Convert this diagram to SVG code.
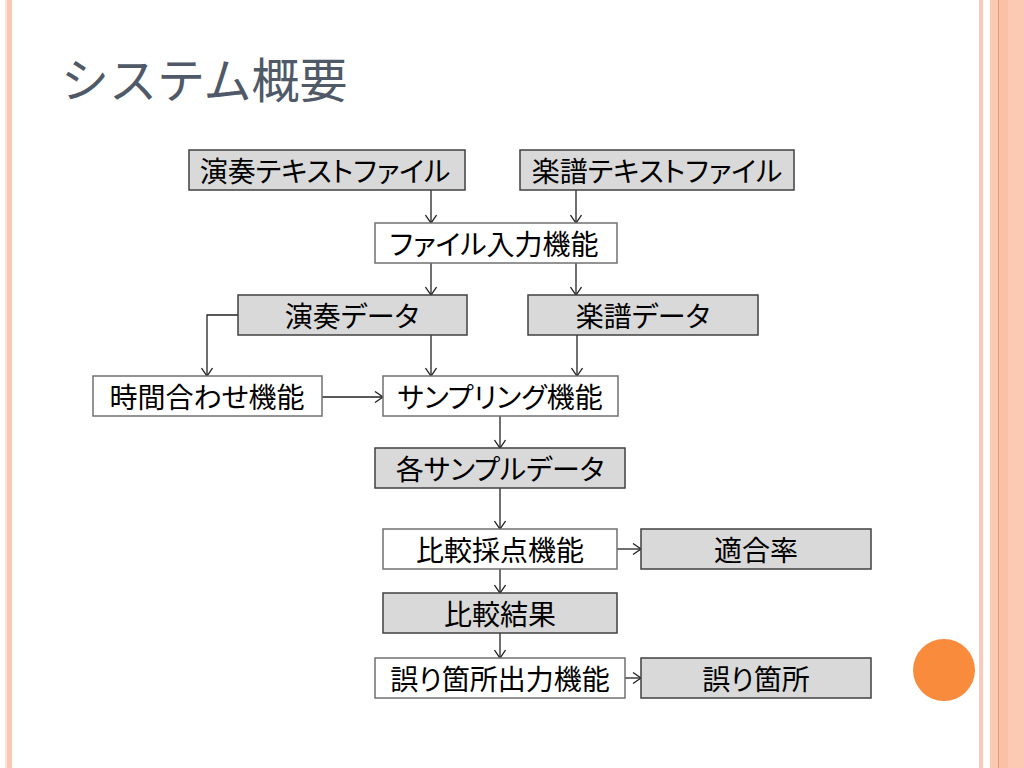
<svg xmlns="http://www.w3.org/2000/svg" width="1024" height="768" viewBox="0 0 1024 768">
  <defs>
    <marker id="arr" viewBox="-10 -6 12 12" refX="0" refY="0" markerWidth="12" markerHeight="12" markerUnits="userSpaceOnUse" orient="auto">
      <path d="M-8,-5.5 L0,0 L-8,5.5" fill="none" stroke="#222" stroke-width="1.3"/>
    </marker>
  </defs>
  <style>
    .box-g { fill: #D9D9D9; stroke: #404040; stroke-width: 1.5; }
    .box-w { fill: #FFFFFF; stroke: #707070; stroke-width: 1.5; }
    .lbl { font-family: "Noto Sans CJK JP", "Liberation Sans", sans-serif; font-size: 28px; fill: #000; text-anchor: middle; font-feature-settings: "palt"; }
    .title { font-family: "Noto Sans CJK JP", "Liberation Sans", sans-serif; font-size: 48px; fill: #4F5967; }
    .conn { fill: none; stroke: #222; stroke-width: 1.3; marker-end: url(#arr); }
  </style>

  <rect x="0" y="0" width="1024" height="768" fill="#FFFFFF"/>

  <!-- slide decoration -->
  <g id="decor">
    <rect x="5" y="0" width="2" height="768" fill="#F7E3D7"/>
    <rect x="7" y="0" width="5" height="768" fill="#FBC6B5"/>
    <rect x="979" y="0" width="4" height="768" fill="#F9CABB"/>
    <rect x="990" y="0" width="34" height="768" fill="#FCCAB2"/>
    <rect x="999" y="0" width="9" height="768" fill="#FAC1A6"/>
    <rect x="998" y="0" width="1" height="768" fill="#E09A78"/>
    <circle cx="944" cy="670" r="31" fill="#F98B3C"/>
  </g>

  <text class="title" x="61" y="98">システム概要</text>

  <g id="connectors">
    <line class="conn" x1="431" y1="190" x2="431" y2="223"/>
    <line class="conn" x1="576" y1="190" x2="576" y2="223"/>
    <line class="conn" x1="431" y1="263" x2="431" y2="295"/>
    <line class="conn" x1="576" y1="263" x2="576" y2="295"/>
    <path class="conn" d="M238,315 H207 V376"/>
    <line class="conn" x1="431" y1="335" x2="431" y2="376"/>
    <line class="conn" x1="577" y1="335" x2="577" y2="376"/>
    <line class="conn" x1="322" y1="397" x2="383" y2="397"/>
    <line class="conn" x1="500" y1="416" x2="500" y2="448"/>
    <line class="conn" x1="500" y1="488" x2="500" y2="529"/>
    <line class="conn" x1="617" y1="549" x2="641" y2="549"/>
    <line class="conn" x1="500" y1="569" x2="500" y2="593"/>
    <line class="conn" x1="500" y1="633" x2="500" y2="658"/>
    <line class="conn" x1="625" y1="678" x2="641" y2="678"/>
  </g>

  <g id="n-ensou-file">
    <rect class="box-g" x="189" y="150" width="276" height="40"/>
    <text class="lbl" x="325" y="182">演奏テキストファイル</text>
  </g>
  <g id="n-gakufu-file">
    <rect class="box-g" x="520" y="150" width="274" height="40"/>
    <text class="lbl" x="657" y="182">楽譜テキストファイル</text>
  </g>
  <g id="n-file-input">
    <rect class="box-w" x="375" y="223" width="242" height="40"/>
    <text class="lbl" x="494" y="255">ファイル入力機能</text>
  </g>
  <g id="n-ensou-data">
    <rect class="box-g" x="238" y="295" width="229" height="40"/>
    <text class="lbl" x="352" y="327">演奏データ</text>
  </g>
  <g id="n-gakufu-data">
    <rect class="box-g" x="528" y="295" width="230" height="40"/>
    <text class="lbl" x="643" y="327">楽譜データ</text>
  </g>
  <g id="n-time-align">
    <rect class="box-w" x="93" y="376" width="229" height="40"/>
    <text class="lbl" x="207" y="408">時間合わせ機能</text>
  </g>
  <g id="n-sampling">
    <rect class="box-w" x="383" y="376" width="235" height="40"/>
    <text class="lbl" x="500" y="408">サンプリング機能</text>
  </g>
  <g id="n-sample-data">
    <rect class="box-g" x="375" y="448" width="250" height="40"/>
    <text class="lbl" x="500" y="480">各サンプルデータ</text>
  </g>
  <g id="n-compare">
    <rect class="box-w" x="383" y="529" width="234" height="40"/>
    <text class="lbl" x="500" y="561">比較採点機能</text>
  </g>
  <g id="n-rate">
    <rect class="box-g" x="641" y="529" width="230" height="40"/>
    <text class="lbl" x="756" y="561">適合率</text>
  </g>
  <g id="n-result">
    <rect class="box-g" x="383" y="593" width="234" height="40"/>
    <text class="lbl" x="500" y="625">比較結果</text>
  </g>
  <g id="n-error-out">
    <rect class="box-w" x="375" y="658" width="250" height="40"/>
    <text class="lbl" x="500" y="690">誤り箇所出力機能</text>
  </g>
  <g id="n-error">
    <rect class="box-g" x="641" y="658" width="230" height="40"/>
    <text class="lbl" x="756" y="690">誤り箇所</text>
  </g>
</svg>
